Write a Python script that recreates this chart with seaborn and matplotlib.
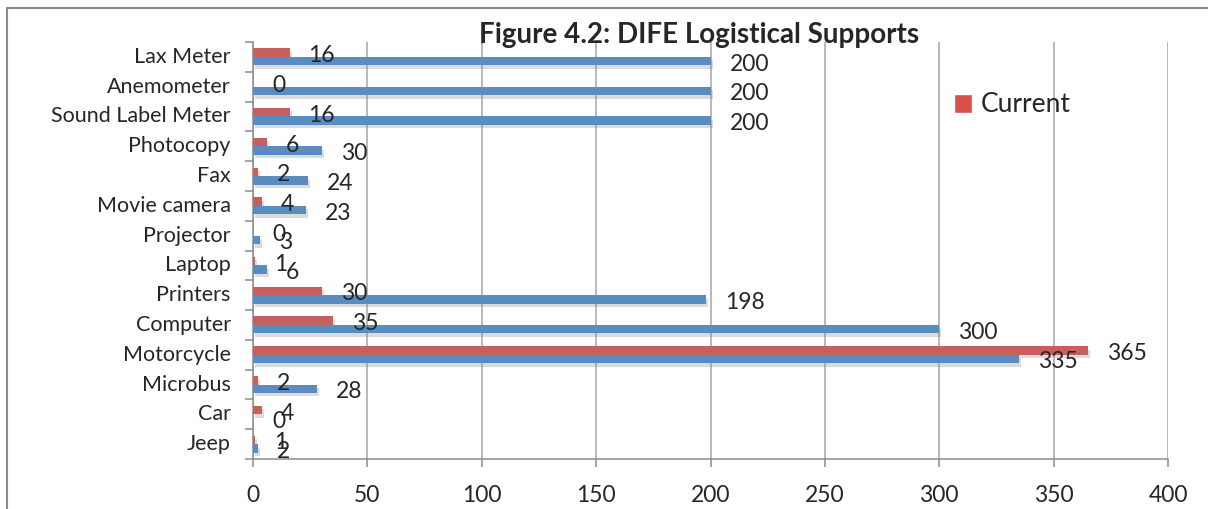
import pandas as pd
import seaborn as sns
import matplotlib.pyplot as plt
import matplotlib.patheffects as pe
import matplotlib.transforms as mtrans
from matplotlib.patches import Patch
from matplotlib.lines import Line2D

items = ["Lax Meter", "Anemometer", "Sound Label Meter", "Photocopy", "Fax",
         "Movie camera", "Projector", "Laptop", "Printers", "Computer",
         "Motorcycle", "Microbus", "Car", "Jeep"]
current = [16, 0, 16, 6, 2, 4, 0, 1, 30, 35, 365, 2, 4, 1]
required = [200, 200, 200, 30, 24, 23, 3, 6, 198, 300, 335, 28, 0, 2]
x_ticks = [0, 50, 100, 150, 200, 250, 300, 350, 400]

df = pd.DataFrame({
    "item": items * 2,
    "value": current + required,
    "series": ["Current"] * len(items) + ["Required"] * len(items),
})

red = "#d7504b"
blue = "#4a8bd1"

sns.set_style("white")
plt.rcParams["font.family"] = ["Lato", "DejaVu Sans"]

fig = plt.figure(figsize=(12.08, 5.09), dpi=100)
ax = fig.add_axes([253 / 1208, 1 - 459 / 509, 915 / 1208, 417 / 509])

sns.barplot(data=df, y="item", x="value", hue="series", order=items,
            hue_order=["Current", "Required"], palette=[red, blue],
            width=0.57, orient="h", legend=False, ax=ax, zorder=3,
            linewidth=0)

shadow = [pe.SimplePatchShadow(offset=(1.5, -2.5), shadow_rgbFace="#888888",
                               alpha=0.3), pe.Normal()]
for cont in ax.containers:
    for bar in cont:
        bar.set_path_effects(shadow)
        ax.annotate(f"{bar.get_width():.0f}",
                    (bar.get_width(), bar.get_y() + bar.get_height() / 2),
                    xytext=(19, -3), textcoords="offset pixels",
                    ha="left", va="center", fontsize=16.5, zorder=5)

ax.set_xlim(0, 400)
ax.set_ylim(len(items) - 0.5, -0.5)
ax.set_xticks(x_ticks)
ax.set_xticklabels([str(t) for t in x_ticks], fontsize=16.5)
ax.set_yticks([i - 0.5 for i in range(len(items) + 1)])
ax.set_yticklabels([])
ax.set_yticks(range(len(items)), minor=True)
ax.set_yticklabels(items, minor=True, fontsize=15.5, va="center")
shift = mtrans.ScaledTranslation(0, -3 / 100, fig.dpi_scale_trans)
for lab in ax.get_yticklabels(minor=True):
    lab.set_transform(lab.get_transform() + shift)
ax.tick_params(axis="y", which="minor", length=0, pad=16)
ax.tick_params(axis="y", which="major", length=6, width=1.1, color="#8c8c8c",
               direction="out", left=True)
ax.tick_params(axis="x", length=6, width=1.1, color="#8c8c8c",
               direction="out", pad=13, bottom=True)
ax.set_xlabel("")
ax.set_ylabel("")
ax.grid(axis="x", color="#a6a6a6", lw=1.1, zorder=0)
ax.grid(axis="y", visible=False)
ax.set_axisbelow(True)
for side in ["top", "right"]:
    ax.spines[side].set_visible(False)
for side in ["left", "bottom"]:
    ax.spines[side].set_color("#8c8c8c")
    ax.spines[side].set_linewidth(1.1)

fig.text(699 / 1208, 1 - 43 / 509, "Figure 4.2: DIFE Logistical Supports",
         ha="center", va="baseline", fontsize=20, fontweight="bold")

fig.legend(handles=[Patch(facecolor=red, label="Current")], loc="center left",
           bbox_to_anchor=(954 / 1208, 1 - 105 / 509), frameon=False,
           fontsize=19, borderpad=0, borderaxespad=0, handlelength=0.7,
           handleheight=0.7, handletextpad=0.3)

fig.add_artist(Line2D([7 / 1208, 7 / 1208], [0, 1 - 8 / 509],
                      transform=fig.transFigure, color="#8c8c8c", lw=1.5))
fig.add_artist(Line2D([7 / 1208, 1], [1 - 8 / 509, 1 - 8 / 509],
                      transform=fig.transFigure, color="#8c8c8c", lw=1.5))

fig.savefig("out.png", dpi=100)
